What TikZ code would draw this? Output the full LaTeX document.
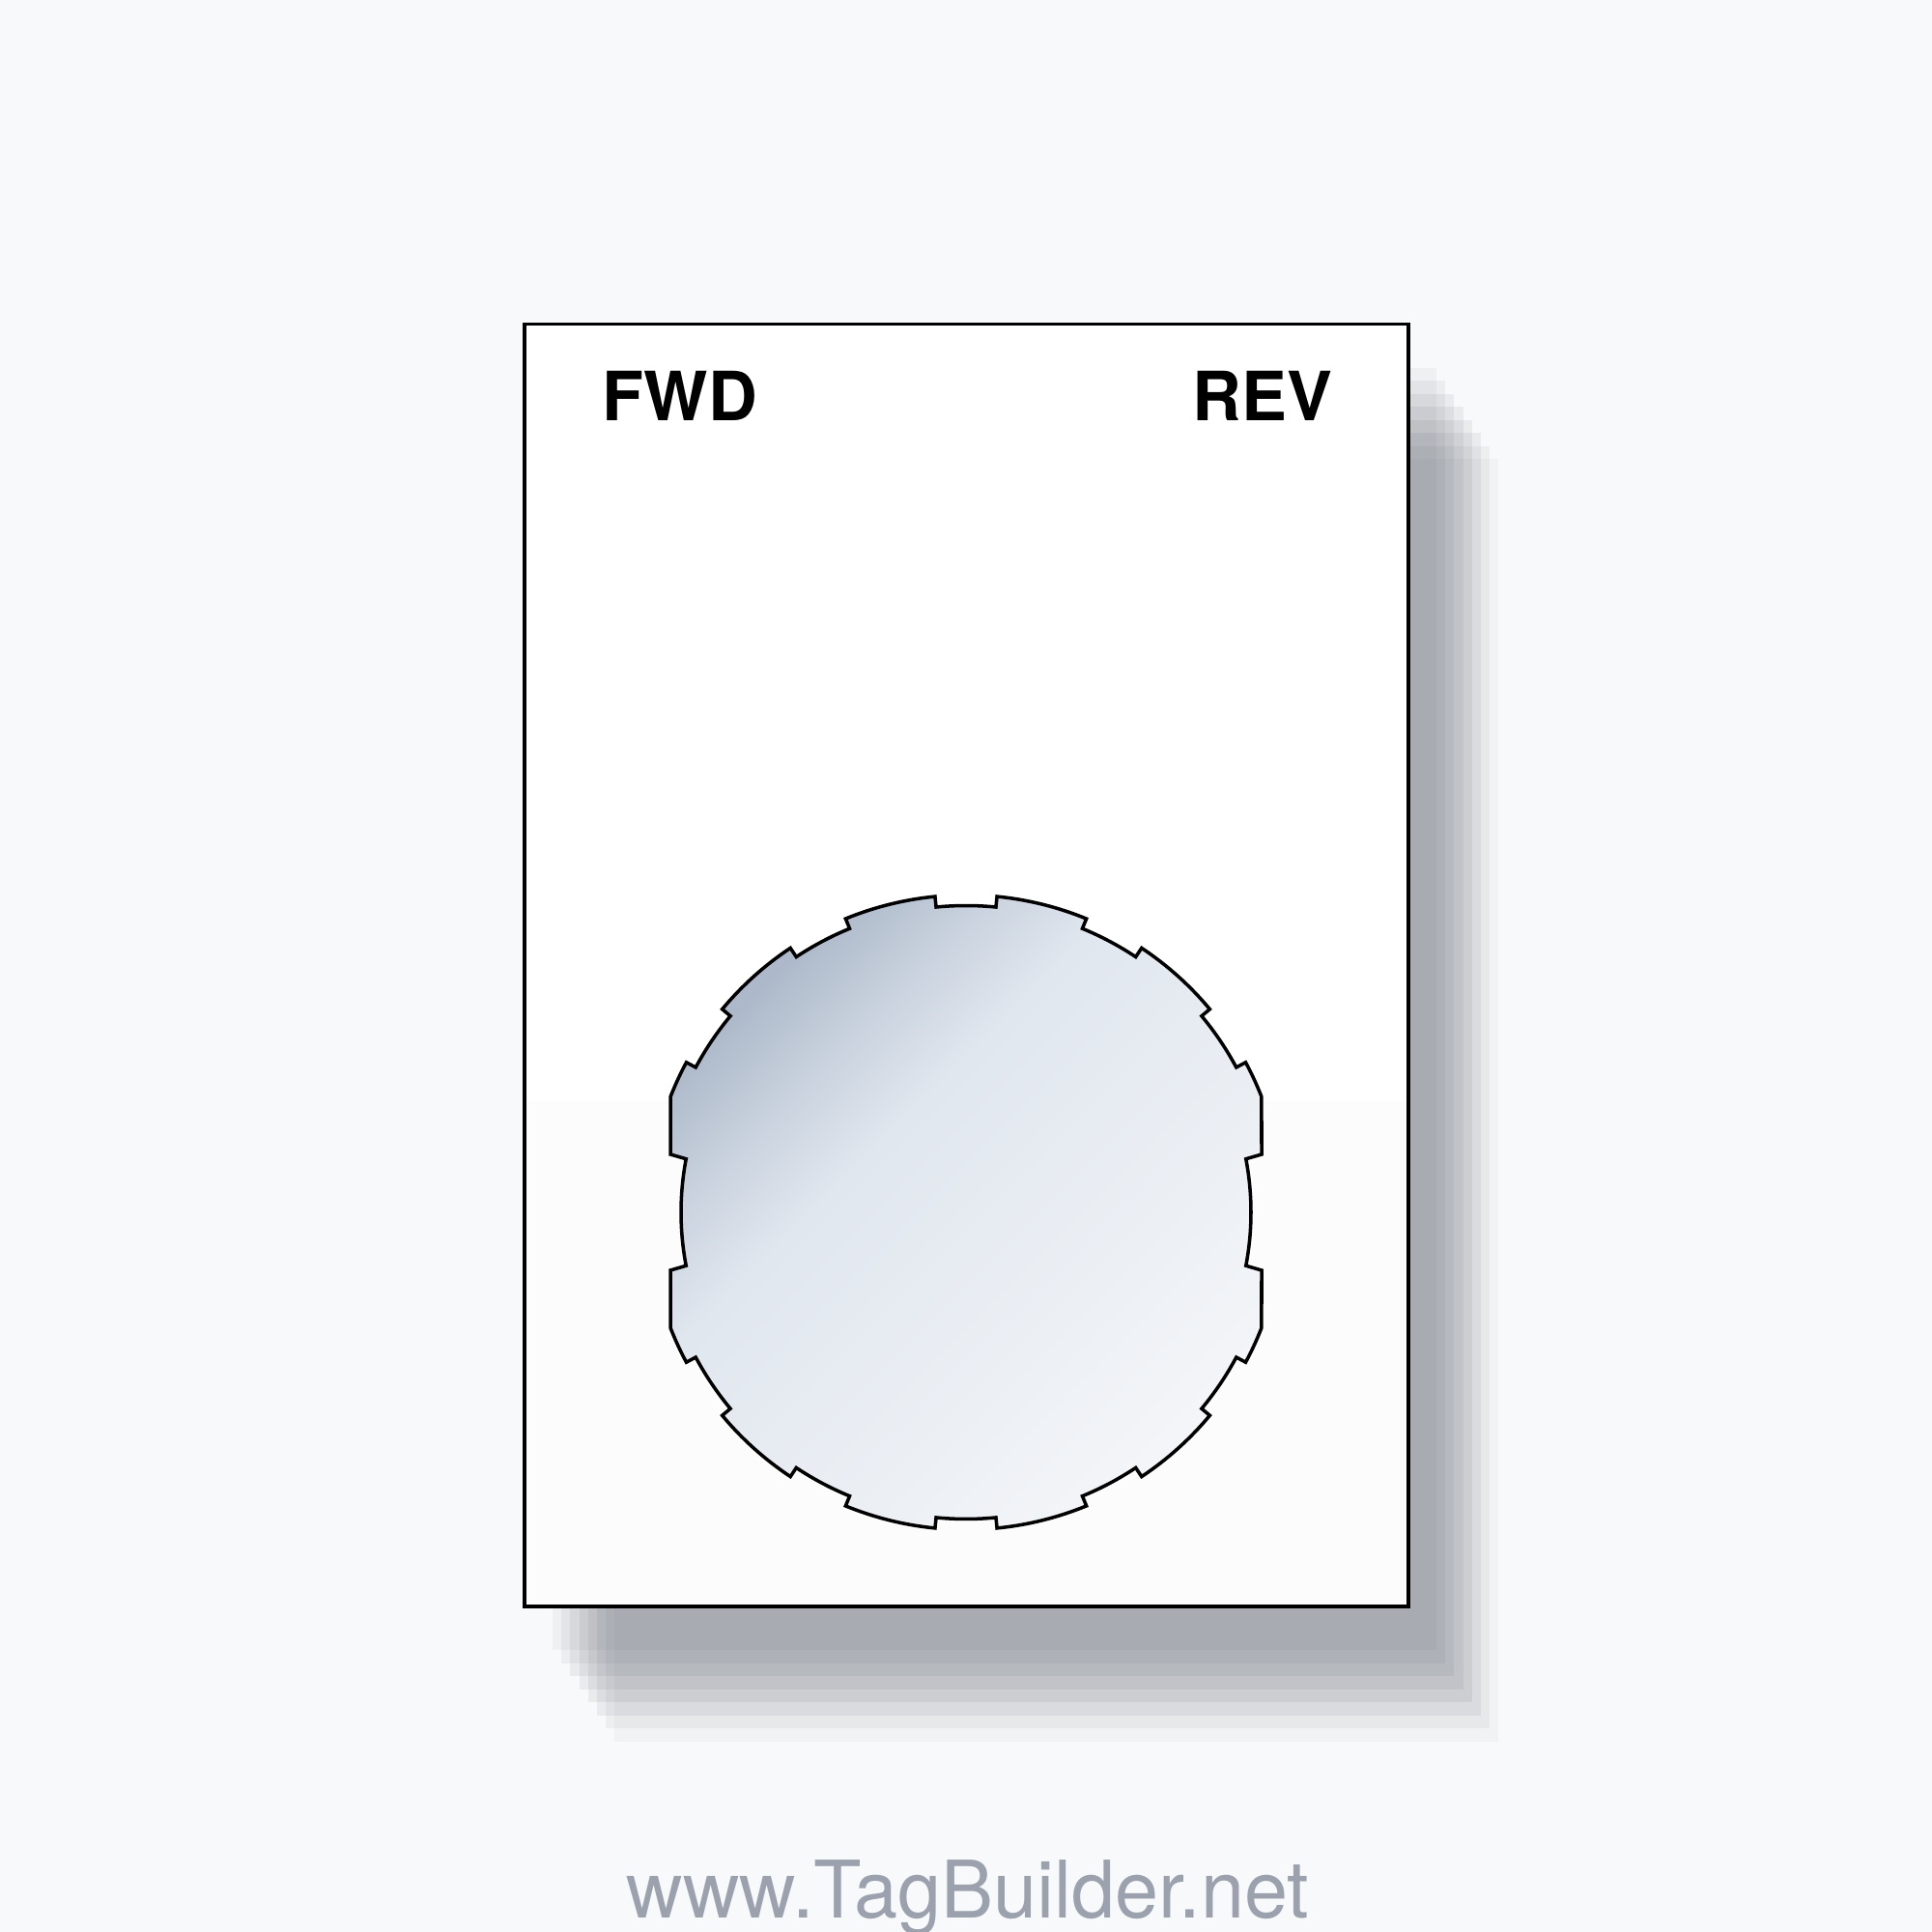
\documentclass[tikz,border=0pt]{standalone}
\usepackage{fontspec}
\newfontfamily\heros{TeX Gyre Heros}
\definecolor{bgc}{HTML}{F8F9FA}
\definecolor{shadowc}{HTML}{283040}
\definecolor{urlc}{HTML}{9BA2AE}
\definecolor{gz}{HTML}{ADB9CA}
\definecolor{gq}{HTML}{C9D2DE}
\definecolor{gm}{HTML}{E1E7EF}
\definecolor{ge}{HTML}{F3F5F8}
\definecolor{tagbot}{HTML}{FCFCFC}
\pgfdeclarehorizontalshading{knobshade}{100bp}{color(0bp)=(gz); color(25bp)=(gz); color(33bp)=(gq); color(41bp)=(gm); color(75bp)=(ge); color(100bp)=(ge)}
\tikzset{
  outline/.style={draw=black, line width=1pt, line join=miter},
  labeltext/.style={inner sep=0pt, text=black, font=\heros\bfseries\fontsize{20}{24}\selectfont},
}
\begin{document}
\begin{tikzpicture}
\useasboundingbox (0,0) rectangle (20,20);
\fill[bgc] (0,0) rectangle (20,20);
% shadow layers
\foreach \k/\op in {8/0.03,7/0.05,6/0.065,5/0.07,4/0.065,3/0.065,2/0.055,1/0.045} {
  \pgfmathsetmacro\dx{0.29+0.092*(\k-1)}
  \pgfmathsetmacro\dy{0.455+0.135*(\k-1)}
  \fill[shadowc, fill opacity=\op] (5.43+\dx, 3.37-\dy) rectangle (14.58+\dx, 16.645-\dy);
}
% tag
\fill[white] (5.43,3.37) rectangle (14.58,16.645);
\fill[tagbot] (5.43,3.37) rectangle (14.58,8.6);
\draw[outline] (5.43,3.37) rectangle (14.58,16.645);
\node[labeltext, anchor=base west] (fwd) at (6.23,15.64) {FWD};
\node[labeltext, anchor=base east] (rev) at (13.80,15.64) {REV};
% knob cut-out
\def\Ro{3.285}
\def\Ri{3.175}
\def\Rs{2.95}
\begin{scope}[shift={(10,7.45)}]
\shadedraw[outline, shading=knobshade, shading angle=-45]
  (-10.8:\Rs) arc[start angle=-10.8, end angle=10.8, radius=\Rs]
  -- (3.06,0.60) -- (21.34:\Ro)
  arc[start angle=21.34, end angle=28.2, radius=\Ro] -- (28.2:\Ri)
  arc[start angle=28.2, end angle=39.8, radius=\Ri] -- (39.8:\Ro)
  arc[start angle=39.8, end angle=56.4, radius=\Ro] -- (56.4:\Ri)
  arc[start angle=56.4, end angle=67.7, radius=\Ri] -- (67.7:\Ro)
  arc[start angle=67.7, end angle=84.4, radius=\Ro] -- (84.4:\Ri)
  arc[start angle=84.4, end angle=95.6, radius=\Ri] -- (95.6:\Ro)
  arc[start angle=95.6, end angle=112.3, radius=\Ro] -- (112.3:\Ri)
  arc[start angle=112.3, end angle=123.6, radius=\Ri] -- (123.6:\Ro)
  arc[start angle=123.6, end angle=140.2, radius=\Ro] -- (140.2:\Ri)
  arc[start angle=140.2, end angle=151.8, radius=\Ri] -- (151.8:\Ro)
  arc[start angle=151.8, end angle=158.66, radius=\Ro]
  -- (-3.06,0.60) -- (169.2:\Rs)
  arc[start angle=169.2, end angle=190.8, radius=\Rs]
  -- (-3.06,-0.60) -- (201.34:\Ro)
  arc[start angle=201.34, end angle=208.2, radius=\Ro] -- (208.2:\Ri)
  arc[start angle=208.2, end angle=219.8, radius=\Ri] -- (219.8:\Ro)
  arc[start angle=219.8, end angle=236.4, radius=\Ro] -- (236.4:\Ri)
  arc[start angle=236.4, end angle=247.7, radius=\Ri] -- (247.7:\Ro)
  arc[start angle=247.7, end angle=264.4, radius=\Ro] -- (264.4:\Ri)
  arc[start angle=264.4, end angle=275.6, radius=\Ri] -- (275.6:\Ro)
  arc[start angle=275.6, end angle=292.3, radius=\Ro] -- (292.3:\Ri)
  arc[start angle=292.3, end angle=303.6, radius=\Ri] -- (303.6:\Ro)
  arc[start angle=303.6, end angle=320.2, radius=\Ro] -- (320.2:\Ri)
  arc[start angle=320.2, end angle=331.8, radius=\Ri] -- (331.8:\Ro)
  arc[start angle=331.8, end angle=338.66, radius=\Ro]
  -- (3.06,-0.60) -- cycle;
\end{scope}
% footer
\node[inner sep=0pt, anchor=base, text=urlc] (url) at (10.02,0.143) {\scalebox{0.985}[1]{\heros\fontsize{23.4}{28}\selectfont www.TagBuilder.net}};
\end{tikzpicture}
\end{document}
